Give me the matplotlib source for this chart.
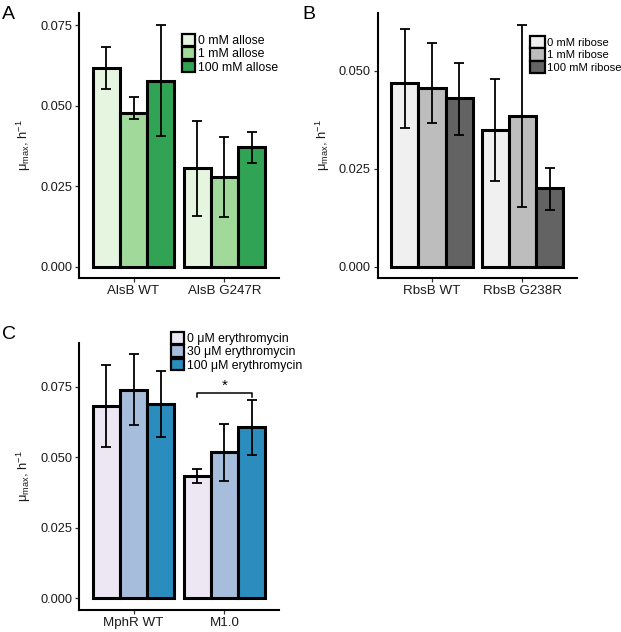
import numpy as np
import matplotlib
matplotlib.use("Agg")
import matplotlib.pyplot as plt
from matplotlib.patches import Patch

plt.rcParams["font.family"] = ["Liberation Sans", "DejaVu Sans"]
plt.rcParams["mathtext.fontset"] = "custom"
plt.rcParams["mathtext.rm"] = "Liberation Sans"
plt.rcParams["mathtext.it"] = "Liberation Sans:italic"
plt.rcParams["mathtext.default"] = "regular"

# ---------------------------------------------------------------------------
# Datos
# ---------------------------------------------------------------------------

grupos_a = ["AlsB WT", "AlsB G247R"]
niveles_a = ["0 mM allose", "1 mM allose", "100 mM allose"]
media_a = [[0.0617, 0.0478, 0.0578], [0.0306, 0.0280, 0.0373]]
bajo_a = [[0.0551, 0.0459, 0.0406], [0.0157, 0.0155, 0.0321]]
alto_a = [[0.0683, 0.0528, 0.0750], [0.0453, 0.0404, 0.0419]]

grupos_b = ["RbsB WT", "RbsB G238R"]
niveles_b = ["0 mM ribose", "1 mM ribose", "100 mM ribose"]
media_b = [[0.0469, 0.0456, 0.0430], [0.0349, 0.0385, 0.0200]]
bajo_b = [[0.0354, 0.0367, 0.0337], [0.0219, 0.0152, 0.0145]]
alto_b = [[0.0608, 0.0571, 0.0521], [0.0480, 0.0618, 0.0252]]

grupos_c = ["MphR WT", "M1.0"]
niveles_c = ["0 μM erythromycin", "30 μM erythromycin", "100 μM erythromycin"]
media_c = [[0.0682, 0.0739, 0.0688], [0.0435, 0.0518, 0.0607]]
bajo_c = [[0.0535, 0.0615, 0.0571], [0.0408, 0.0417, 0.0508]]
alto_c = [[0.0827, 0.0865, 0.0804], [0.0458, 0.0617, 0.0703]]

colores_a = ["#E5F5E0", "#A1D99B", "#31A354"]
colores_b = ["#F0F0F0", "#BDBDBD", "#636363"]
colores_c = ["#ECE7F2", "#A6BDDB", "#2B8CBE"]

ANCHO = 0.3


def dibujar_panel(ax, grupos, niveles, media, bajo, alto, colores,
                  ylim, yticks, ancla_leyenda, fig, tam_leyenda=8.8,
                  tam_clave=1.1):
    x = np.arange(1, len(grupos) + 1)
    media = np.array(media)
    bajo = np.array(bajo)
    alto = np.array(alto)
    for i in range(len(niveles)):
        pos = x + (i - 1) * ANCHO
        ax.bar(pos, media[:, i], width=ANCHO, color=colores[i],
               edgecolor="black", linewidth=2.2, zorder=2)
        ax.errorbar(pos, media[:, i],
                    yerr=[media[:, i] - bajo[:, i], alto[:, i] - media[:, i]],
                    fmt="none", ecolor="black", elinewidth=1.3,
                    capsize=3.3, capthick=1.3, zorder=3)

    ax.set_xlim(0.4, 2.6)
    ax.set_ylim(*ylim)
    ax.set_xticks(x)
    ax.set_xticklabels(grupos, fontsize=9.6)
    ax.set_yticks(yticks)
    ax.set_yticklabels([f"{v:.3f}" for v in yticks], fontsize=9.2)
    ax.tick_params(length=3, width=0.9, color="#333333", pad=2,
                   labelcolor="#1a1a1a")
    for lado in ["top", "right"]:
        ax.spines[lado].set_visible(False)
    for lado in ["left", "bottom"]:
        ax.spines[lado].set_linewidth(1.5)

    ax.set_ylabel("μ$_{max}$, h$^{-1}$", fontsize=9.4, color="#1a1a1a")
    ax.yaxis.set_label_coords(-0.23, 0.5)

    parches = [Patch(facecolor=c, edgecolor="black", linewidth=1.6)
               for c in colores]
    ax.legend(parches, niveles, loc="upper left", bbox_to_anchor=ancla_leyenda,
              bbox_transform=fig.transFigure, frameon=False,
              fontsize=tam_leyenda, borderpad=0, borderaxespad=0,
              handlelength=tam_clave, handleheight=tam_clave,
              handletextpad=0.2, labelspacing=0.02)


fig = plt.figure(figsize=(6.21, 6.32), dpi=100)

ax_a = fig.add_axes([79 / 621, 1 - 278 / 632, 200 / 621, 265 / 632])
ax_b = fig.add_axes([377.7 / 621, 1 - 278 / 632, 199 / 621, 265 / 632])
ax_c = fig.add_axes([79 / 621, 1 - 610 / 632, 200 / 621, 267.3 / 632])

dibujar_panel(ax_a, grupos_a, niveles_a, media_a, bajo_a, alto_a, colores_a,
              (-0.0035, 0.0788), [0, 0.025, 0.05, 0.075],
              (182 / 621, 1 - 34 / 632), fig)
dibujar_panel(ax_b, grupos_b, niveles_b, media_b, bajo_b, alto_b, colores_b,
              (-0.0029, 0.0648), [0, 0.025, 0.05],
              (530 / 621, 1 - 36 / 632), fig, tam_leyenda=8.1, tam_clave=1.3)
dibujar_panel(ax_c, grupos_c, niveles_c, media_c, bajo_c, alto_c, colores_c,
              (-0.00415, 0.0906), [0, 0.025, 0.05, 0.075],
              (171 / 621, 1 - 332 / 632), fig)

# Corchete de significancia en el panel C
x1, x2 = 2 - ANCHO, 2 + ANCHO
y_barra, y_punta = 0.0727, 0.0714
ax_c.plot([x1, x1, x2, x2], [y_punta, y_barra, y_barra, y_punta],
          color="black", linewidth=1.1, zorder=4)
ax_c.text(2, y_barra + 0.0003, "*", ha="center", va="bottom", fontsize=11)

# Letras de panel
for letra, (px, py) in zip("ABC", [(2, 19), (302, 19), (2, 339)]):
    fig.text(px / 621, 1 - py / 632, letra, fontsize=14,
             ha="left", va="baseline")

fig.savefig("out.png", dpi=100)
